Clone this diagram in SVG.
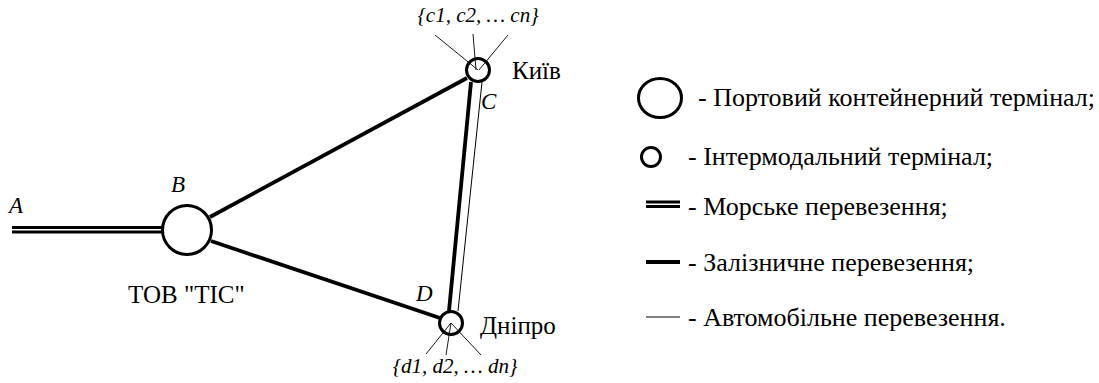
<svg xmlns="http://www.w3.org/2000/svg" width="1099" height="383" viewBox="0 0 1099 383">
<style>
text{fill:#000;font-size:25px}
.it{font-style:italic;font-size:21px}
.lt{font-style:italic;font-size:23px}
.lg{font-size:26px}
.node{fill:#fff;stroke:#000;stroke-width:3}
.rail{stroke:#000;stroke-width:3.8;fill:none}
.sea{stroke:#000;stroke-width:3;fill:none}
.road{stroke:#000;stroke-width:1;fill:none}
.ptr{stroke:#000;stroke-width:0.9;fill:none}
</style>
<g font-family="Liberation Serif, Times New Roman, serif">
<g id="connectors">
<line class="sea" x1="12" y1="227.5" x2="162" y2="227.5"/>
<line class="sea" x1="12" y1="232" x2="162" y2="232"/>
<line class="rail" x1="210" y1="217" x2="467" y2="78"/>
<line class="rail" x1="211" y1="241" x2="440" y2="318"/>
<line class="rail" x1="471" y1="82" x2="449" y2="311"/>
<line class="road" x1="482" y1="82" x2="458" y2="311"/>
</g>
<g id="node-B"><circle class="node" cx="187" cy="230" r="24.5"/>
<text class="lt" x="171" y="192">B</text>
<text x="128" y="303">ТОВ "ТІС"</text></g>
<g id="node-A"><text class="lt" x="9" y="213">A</text></g>
<g id="node-C"><circle class="node" cx="478" cy="70" r="11.5"/>
<line class="ptr" x1="435" y1="35" x2="478" y2="70"/>
<line class="ptr" x1="473" y1="34" x2="476" y2="70"/>
<line class="ptr" x1="508" y1="35" x2="479" y2="70"/>
<text class="it" x="478" y="22" text-anchor="middle">{c1, c2, … cn}</text>
<text class="lt" x="481" y="109">C</text>
<text x="512" y="79">Київ</text></g>
<g id="node-D"><circle class="node" cx="451" cy="323" r="11.5"/>
<line class="ptr" x1="451" y1="323" x2="426" y2="354"/>
<line class="ptr" x1="451" y1="323" x2="446" y2="355"/>
<line class="ptr" x1="451" y1="323" x2="481" y2="355"/>
<text class="it" x="455" y="373" text-anchor="middle">{d1, d2, … dn}</text>
<text class="lt" x="416" y="301">D</text>
<text x="480" y="334">Дніпро</text></g>
<g id="legend">
<ellipse cx="660" cy="98" rx="21.5" ry="19.5" fill="none" stroke="#000" stroke-width="3"/>
<text class="lg" x="698" y="106">- Портовий контейнерний термінал;</text>
<circle cx="651" cy="157" r="9.5" fill="none" stroke="#000" stroke-width="3"/>
<text class="lg" x="688" y="165">- Інтермодальний термінал;</text>
<line class="sea" x1="646" y1="202" x2="680" y2="202"/>
<line class="sea" x1="646" y1="206.5" x2="680" y2="206.5"/>
<text class="lg" x="688" y="215">- Морське перевезення;</text>
<line class="rail" x1="646" y1="262" x2="680" y2="262"/>
<text class="lg" x="688" y="271">- Залізничне перевезення;</text>
<line class="road" x1="646" y1="317" x2="680" y2="317"/>
<text class="lg" x="688" y="326">- Автомобільне перевезення.</text>
</g>
</g>
</svg>
